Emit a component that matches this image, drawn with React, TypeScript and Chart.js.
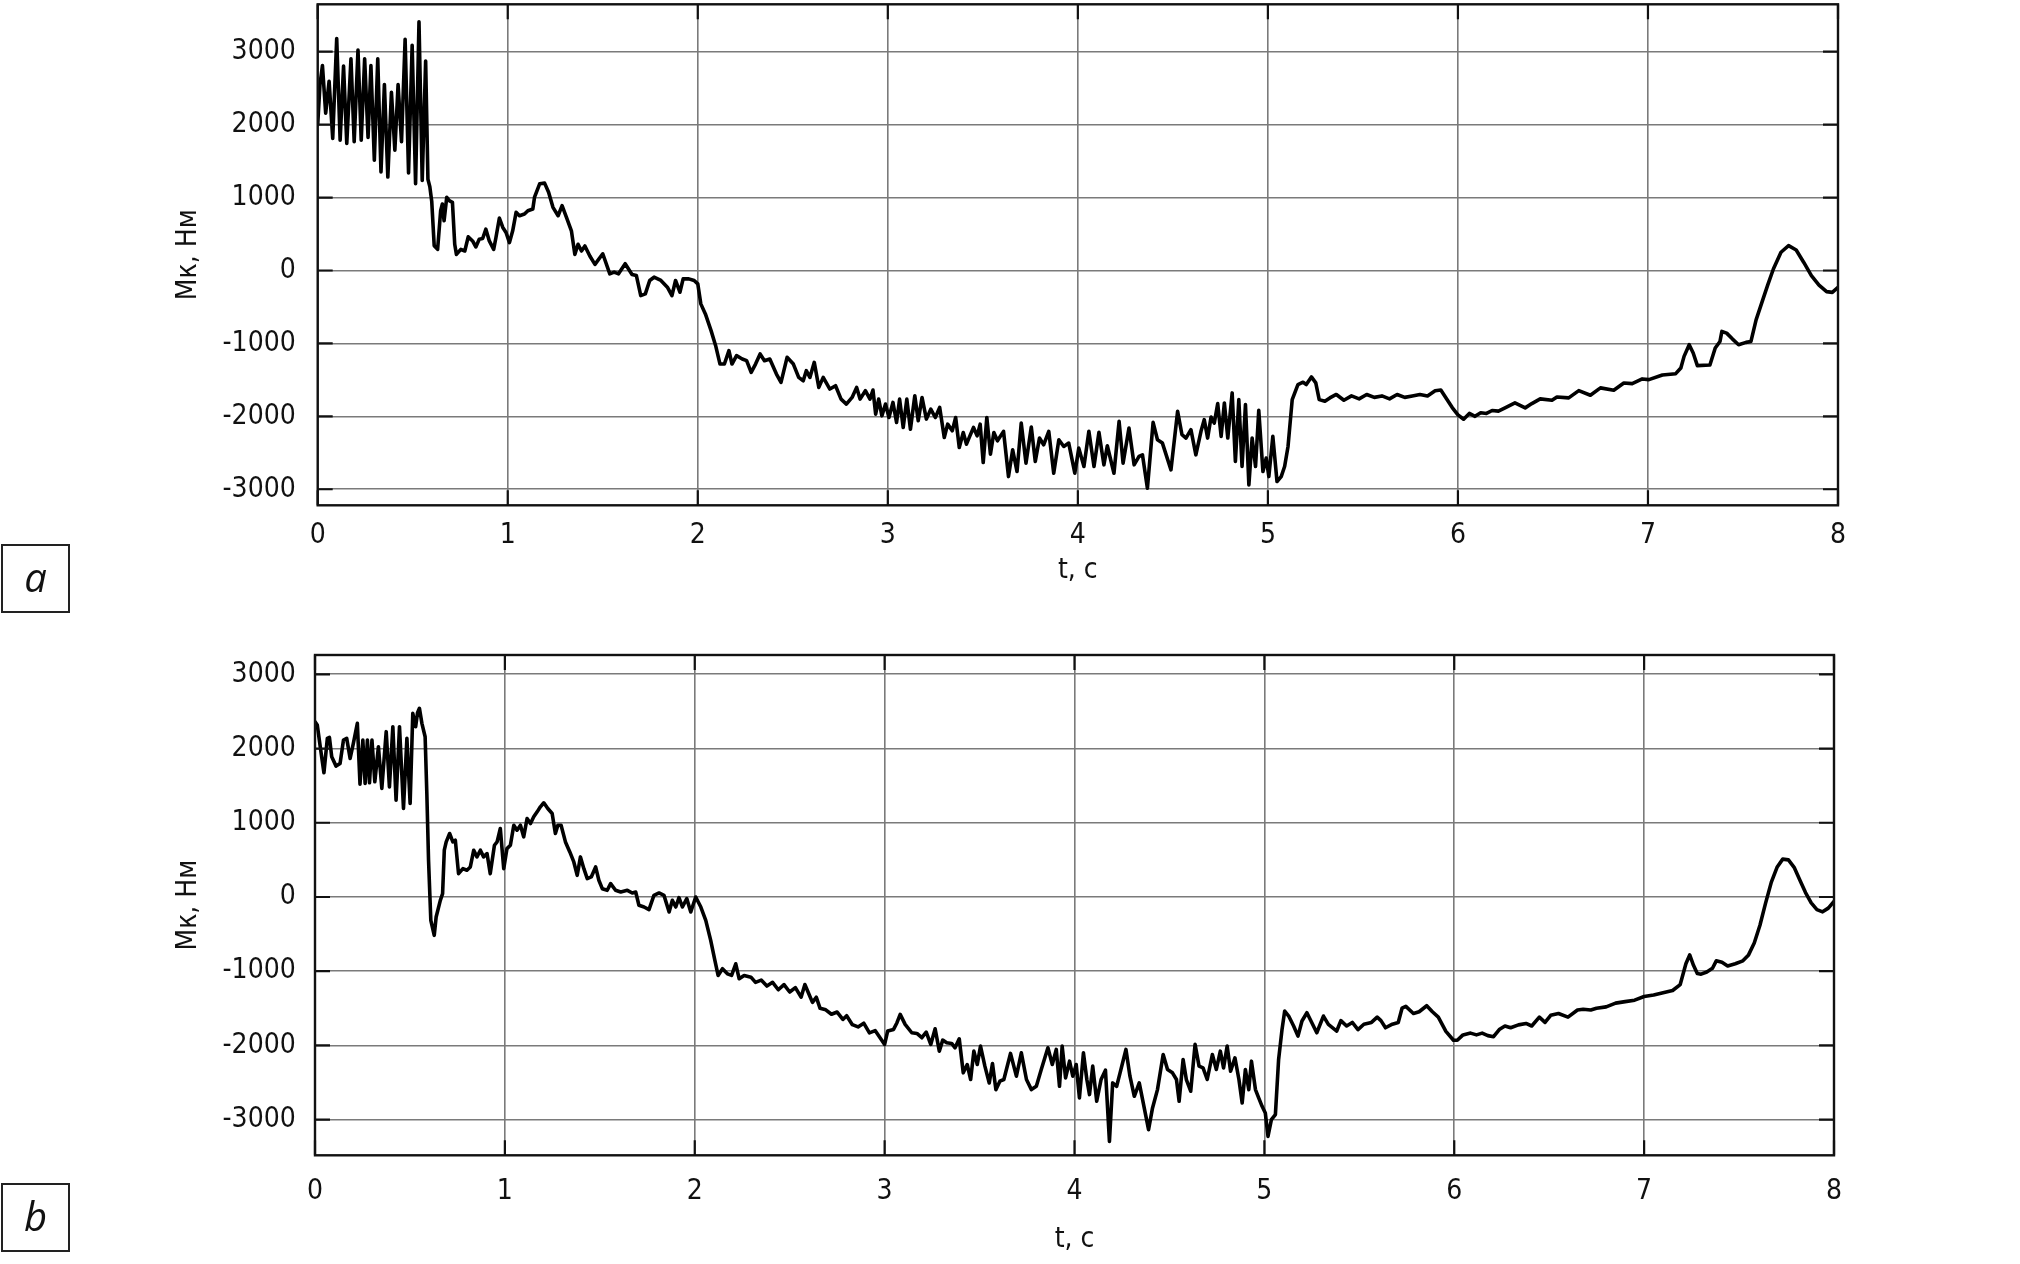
import { useEffect, useRef } from 'react';
import { Chart, registerables } from 'chart.js';

Chart.register(...registerables);

// ---- data ----
const xTicks = [0, 1, 2, 3, 4, 5, 6, 7, 8];
const yTicks = [-3000, -2000, -1000, 0, 1000, 2000, 3000];
const xLabel = 't, c';
const yLabel = 'Мк, Нм';
const panelA = 'a';
const panelB = 'b';

// chart a: [t, Mk]
const pointsA: [number, number][] = [
  [0, 2000], [0.012, 2550], [0.025, 2810], [0.042, 2157], [0.06, 2594], [0.079, 1811], [0.1, 3180], [0.118, 1788],
  [0.136, 2802], [0.153, 1742], [0.175, 2903], [0.192, 1765], [0.212, 3023], [0.229, 1788], [0.247, 2903], [0.265, 1825],
  [0.28, 2811], [0.298, 1511], [0.316, 2903], [0.333, 1350], [0.351, 2548], [0.369, 1281], [0.388, 2442], [0.406, 1650],
  [0.423, 2548], [0.441, 1765], [0.46, 3170], [0.478, 1336], [0.497, 3088], [0.515, 1189], [0.533, 3410], [0.55, 1235],
  [0.568, 2871], [0.58, 1250], [0.59, 1150], [0.6, 950], [0.613, 340], [0.631, 290],
  [0.647, 820], [0.656, 912], [0.665, 682], [0.679, 1005], [0.692, 958], [0.709, 935], [0.721, 360], [0.73, 221],
  [0.753, 290], [0.774, 267], [0.792, 461], [0.815, 405], [0.832, 323], [0.85, 429], [0.868, 438], [0.885, 567],
  [0.903, 405], [0.926, 290], [0.938, 452], [0.956, 719], [0.974, 590], [0.991, 521], [1.009, 382], [1.026, 544],
  [1.044, 797], [1.062, 751], [1.088, 774], [1.106, 820], [1.132, 843], [1.141, 1005], [1.168, 1189], [1.194, 1198],
  [1.215, 1074], [1.238, 866], [1.265, 751], [1.286, 889], [1.309, 728], [1.335, 544], [1.353, 221], [1.37, 359],
  [1.388, 267], [1.406, 336], [1.432, 198], [1.459, 83],
  [1.5, 229], [1.537, -46], [1.56, -23], [1.583, -46], [1.618, 92], [1.654, -55], [1.677, -69], [1.7, -344],
  [1.724, -321], [1.747, -137], [1.77, -92], [1.806, -137], [1.84, -229], [1.864, -344], [1.883, -137], [1.906, -298],
  [1.923, -115], [1.953, -115], [1.981, -137], [2.0, -183], [2.016, -458], [2.04, -596], [2.07, -825], [2.094, -1031],
  [2.117, -1283], [2.14, -1283], [2.164, -1099], [2.18, -1283], [2.204, -1168], [2.234, -1214], [2.257, -1237], [2.281, -1397],
  [2.304, -1283], [2.328, -1145], [2.351, -1237], [2.379, -1214], [2.414, -1420], [2.438, -1535], [2.47, -1191], [2.503, -1283],
  [2.531, -1466], [2.555, -1512], [2.571, -1374], [2.59, -1466], [2.613, -1260], [2.637, -1603], [2.66, -1466], [2.695, -1626],
  [2.725, -1580], [2.754, -1764], [2.782, -1832], [2.812, -1741], [2.836, -1603], [2.854, -1764], [2.882, -1649], [2.906, -1764],
  [2.922, -1640], [2.936, -1970], [2.952, -1764], [2.969, -1993], [2.988, -1832], [3.006, -2016], [3.027, -1809], [3.046, -2084],
  [3.062, -1764], [3.081, -2153], [3.1, -1764], [3.119, -2176], [3.142, -1718], [3.16, -2061], [3.18, -1741], [3.203, -2038],
  [3.226, -1901], [3.25, -2016], [3.273, -1878], [3.297, -2290], [3.315, -2107], [3.339, -2199], [3.357, -2016], [3.376, -2428],
  [3.397, -2222], [3.414, -2382], [3.432, -2268], [3.451, -2153], [3.47, -2268], [3.486, -2107], [3.502, -2634], [3.521, -2016],
  [3.54, -2519], [3.558, -2222], [3.577, -2336],
  [3.609, -2206], [3.635, -2826], [3.657, -2459], [3.68, -2757], [3.702, -2092], [3.727, -2642], [3.755, -2147], [3.776, -2619],
  [3.798, -2298], [3.82, -2390], [3.847, -2206], [3.873, -2780], [3.9, -2321], [3.926, -2413], [3.952, -2367], [3.984, -2780],
  [4.005, -2436], [4.032, -2688], [4.058, -2206], [4.085, -2688], [4.111, -2220], [4.137, -2665], [4.155, -2404], [4.19, -2780],
  [4.217, -2069], [4.238, -2642], [4.269, -2161], [4.296, -2665], [4.322, -2550], [4.34, -2528], [4.366, -2986], [4.396, -2083],
  [4.419, -2321], [4.445, -2367], [4.49, -2734], [4.525, -1931], [4.548, -2252], [4.569, -2298], [4.595, -2183], [4.621, -2528],
  [4.648, -2206], [4.665, -2046], [4.683, -2298], [4.701, -2009], [4.718, -2092], [4.736, -1826], [4.754, -2275], [4.771, -1817],
  [4.789, -2298], [4.812, -1679], [4.829, -2619], [4.847, -1771], [4.864, -2688], [4.882, -1839], [4.9, -2940], [4.917, -2298],
  [4.935, -2688], [4.952, -1917], [4.974, -2757], [4.991, -2573], [5.005, -2826], [5.026, -2275], [5.048, -2894], [5.07, -2826],
  [5.088, -2688], [5.106, -2413], [5.128, -1771], [5.158, -1564], [5.185, -1532], [5.202, -1564], [5.229, -1459], [5.252, -1541],
  [5.27, -1771], [5.3, -1794], [5.326, -1748],
  [5.36, -1700], [5.4, -1780], [5.44, -1720], [5.48, -1760], [5.52, -1700], [5.56, -1740], [5.6, -1720], [5.64, -1760],
  [5.68, -1700], [5.72, -1740], [5.76, -1720], [5.8, -1700], [5.84, -1720], [5.88, -1650], [5.91, -1640], [5.94, -1760],
  [5.97, -1880], [6.0, -1980], [6.03, -2040], [6.06, -1960], [6.09, -2000], [6.12, -1950], [6.15, -1960], [6.18, -1920],
  [6.213, -1929], [6.248, -1884], [6.3, -1815], [6.354, -1884], [6.389, -1825], [6.433, -1761], [6.495, -1779], [6.521, -1734],
  [6.583, -1747], [6.636, -1647], [6.697, -1711], [6.75, -1610], [6.82, -1642], [6.873, -1542], [6.917, -1551], [6.97, -1487],
  [7.005, -1497], [7.076, -1433], [7.146, -1415], [7.173, -1337], [7.19, -1178], [7.217, -1018], [7.238, -1132], [7.26, -1305],
  [7.326, -1296], [7.354, -1064], [7.379, -973], [7.389, -836], [7.414, -859], [7.445, -941], [7.477, -1018], [7.516, -986],
  [7.542, -973], [7.569, -677], [7.604, -403],
  [7.63, -200], [7.66, 20], [7.7, 250], [7.74, 340], [7.78, 280], [7.82, 110], [7.86, -70], [7.9, -200],
  [7.94, -290], [7.97, -300], [8.0, -230],
];

// chart b: [t, Mk]
const pointsB: [number, number][] = [
  [0, 2362], [0.012, 2317], [0.03, 1979], [0.047, 1673], [0.065, 2137], [0.076, 2150], [0.088, 1889], [0.111, 1763],
  [0.132, 1799], [0.15, 2114], [0.167, 2137], [0.185, 1867], [0.202, 2069], [0.223, 2339], [0.237, 1520], [0.252, 2114],
  [0.264, 1529], [0.276, 2114], [0.287, 1538], [0.3, 2114], [0.315, 1552], [0.334, 2024], [0.352, 1462], [0.375, 2227],
  [0.392, 1484], [0.41, 2294], [0.427, 1305], [0.445, 2294], [0.466, 1192], [0.484, 2137], [0.501, 1260], [0.515, 2474],
  [0.53, 2294], [0.54, 2483], [0.55, 2542], [0.563, 2339], [0.58, 2159], [0.589, 1395], [0.598, 495], [0.61, -315],
  [0.628, -517], [0.638, -270], [0.66, -45], [0.672, 45], [0.681, 630], [0.691, 742], [0.709, 855], [0.726, 742],
  [0.739, 765], [0.756, 315], [0.779, 382], [0.8, 360], [0.818, 405], [0.836, 630], [0.853, 540], [0.871, 630],
  [0.888, 540], [0.906, 585], [0.923, 315], [0.945, 697], [0.959, 742], [0.976, 922], [0.994, 382], [1.011, 652],
  [1.029, 697], [1.047, 967], [1.064, 900], [1.082, 967], [1.099, 810], [1.117, 1057], [1.135, 990], [1.152, 1080],
  [1.17, 1147], [1.187, 1215], [1.205, 1269], [1.226, 1192], [1.249, 1125], [1.266, 855], [1.279, 967], [1.296, 967],
  [1.319, 742], [1.342, 607], [1.363, 472], [1.381, 292], [1.398, 540], [1.416, 382], [1.434, 247], [1.455, 270],
  [1.478, 405], [1.495, 225], [1.513, 112], [1.539, 90], [1.557, 180], [1.583, 90], [1.61, 67], [1.645, 90],
  [1.671, 54], [1.689, 67], [1.706, -112], [1.733, -135], [1.759, -171], [1.785, 22], [1.812, 54], [1.838, 22],
  [1.865, -202], [1.882, -45], [1.9, -135], [1.917, -9], [1.935, -135], [1.958, -22], [1.979, -202], [2.005, 0],
  [2.032, -135], [2.058, -315], [2.084, -585], [2.106, -855], [2.123, -1057], [2.146, -967], [2.172, -1035], [2.194, -1057],
  [2.216, -900], [2.234, -1102], [2.26, -1057], [2.296, -1080],
  [2.32, -1150], [2.35, -1120], [2.38, -1200], [2.41, -1150], [2.44, -1250], [2.47, -1180], [2.5, -1280], [2.53, -1220],
  [2.56, -1350], [2.58, -1180], [2.6, -1300], [2.62, -1420], [2.64, -1350], [2.66, -1500], [2.69, -1520], [2.72, -1580],
  [2.75, -1550], [2.78, -1650], [2.8, -1600], [2.83, -1720], [2.86, -1750], [2.89, -1700], [2.92, -1830], [2.95, -1800],
  [3.0, -1986], [3.016, -1806], [3.047, -1784], [3.065, -1694], [3.082, -1581], [3.108, -1716], [3.143, -1829], [3.17, -1838],
  [3.196, -1896], [3.219, -1820], [3.243, -1986], [3.266, -1775], [3.288, -2077], [3.306, -1928], [3.327, -1964], [3.353, -1973],
  [3.371, -2032], [3.393, -1910], [3.414, -2369], [3.435, -2257], [3.453, -2459], [3.47, -2077], [3.488, -2257], [3.505, -2009],
  [3.528, -2279], [3.551, -2505], [3.568, -2243], [3.586, -2595], [3.607, -2482], [3.628, -2459], [3.663, -2108], [3.694, -2414],
  [3.72, -2099], [3.747, -2459], [3.773, -2595], [3.799, -2550], [3.825, -2324], [3.86, -2032], [3.883, -2257], [3.904, -2054],
  [3.921, -2550], [3.935, -2009], [3.953, -2437], [3.974, -2212], [3.991, -2414], [4.009, -2257], [4.026, -2707], [4.047, -2099],
  [4.065, -2459], [4.079, -2662], [4.096, -2279], [4.117, -2752], [4.14, -2459], [4.163, -2333], [4.184, -3293], [4.201, -2505],
  [4.222, -2550], [4.24, -2369], [4.271, -2054], [4.292, -2414], [4.315, -2685], [4.341, -2505], [4.362, -2775], [4.39, -3135],
  [4.411, -2842], [4.437, -2595], [4.467, -2122], [4.49, -2324], [4.516, -2369], [4.537, -2459], [4.551, -2752], [4.572, -2189],
  [4.589, -2459], [4.612, -2617], [4.635, -1986], [4.656, -2279], [4.677, -2302], [4.699, -2459], [4.726, -2122], [4.747, -2324],
  [4.768, -2077], [4.785, -2302], [4.804, -2009], [4.822, -2347], [4.845, -2167], [4.866, -2459], [4.883, -2775], [4.9, -2324],
  [4.918, -2595], [4.932, -2212], [4.953, -2595], [4.97, -2707], [4.988, -2820], [5.005, -2910], [5.019, -3225], [5.037, -3000],
  [5.058, -2932], [5.075, -2189], [5.093, -1784], [5.107, -1536], [5.128, -1604], [5.154, -1739], [5.177, -1874], [5.198, -1671],
  [5.224, -1559], [5.25, -1694], [5.276, -1829], [5.311, -1604], [5.337, -1716], [5.381, -1806],
  [5.403, -1666], [5.433, -1738], [5.463, -1690], [5.493, -1786], [5.524, -1714], [5.564, -1690], [5.594, -1618], [5.614, -1666],
  [5.638, -1762], [5.674, -1714], [5.705, -1690], [5.725, -1498], [5.745, -1474], [5.785, -1570], [5.815, -1546], [5.855, -1465],
  [5.885, -1546], [5.916, -1618], [5.956, -1810], [5.996, -1930], [6.016, -1930], [6.046, -1858], [6.086, -1834], [6.117, -1858],
  [6.147, -1834], [6.177, -1868], [6.207, -1882], [6.237, -1786], [6.267, -1738], [6.297, -1762], [6.338, -1723], [6.378, -1704],
  [6.408, -1738], [6.448, -1618], [6.478, -1690], [6.508, -1594], [6.549, -1570], [6.599, -1618], [6.649, -1522], [6.679, -1512],
  [6.719, -1522], [6.749, -1498],
  [6.8, -1480], [6.85, -1430], [6.9, -1410], [6.95, -1390], [7.0, -1340], [7.05, -1320], [7.1, -1290], [7.15, -1260],
  [7.19, -1180], [7.22, -900], [7.24, -780], [7.26, -920], [7.28, -1030], [7.3, -1040], [7.33, -1010], [7.36, -960],
  [7.38, -860], [7.41, -880], [7.44, -930], [7.48, -900], [7.52, -860], [7.55, -780], [7.58, -620], [7.61, -380],
  [7.64, -80], [7.67, 200], [7.7, 400], [7.73, 510], [7.76, 500], [7.79, 400], [7.82, 230], [7.85, 60],
  [7.88, -80], [7.91, -170], [7.94, -200], [7.97, -150], [8.0, -60],
];

// ---- layout / style ----
const FONT = "'Liberation Sans Narrow', 'DejaVu Sans Condensed', 'Roboto', sans-serif";

type Layout = {
  height: number; yWidth: number; padTop: number; padRight: number; xHeight: number;
  yMin: number; yMax: number; yTickPad: number; xTickPad: number; yTitlePad: number; xTitlePad: number;
};

const layoutA: Layout = {
  height: 620, yWidth: 317.7, padTop: 4.3, padRight: 182, xHeight: 114.7,
  yMin: -3220, yMax: 3650, yTickPad: 22, xTickPad: 14, yTitlePad: 172, xTitlePad: 32,
};
const layoutB: Layout = {
  height: 644, yWidth: 315, padTop: 35, padRight: 186, xHeight: 108.7,
  yMin: -3480, yMax: 3260, yTickPad: 19.3, xTickPad: 20, yTitlePad: 172, xTitlePad: 7.7,
};

const framePlugin = {
  id: 'frameTicks',
  afterDraw(chart: any) {
    const { ctx, chartArea, scales } = chart;
    const { left, right, top, bottom } = chartArea;
    const tl = 15;
    ctx.save();
    ctx.strokeStyle = '#111';
    ctx.lineWidth = 2.2;
    ctx.beginPath();
    for (const v of yTicks) {
      const y = scales.y.getPixelForValue(v);
      ctx.moveTo(left, y); ctx.lineTo(left + tl, y);
      ctx.moveTo(right - tl, y); ctx.lineTo(right, y);
    }
    for (const v of xTicks) {
      const x = scales.x.getPixelForValue(v);
      ctx.moveTo(x, top); ctx.lineTo(x, top + tl);
      ctx.moveTo(x, bottom - tl); ctx.lineTo(x, bottom);
    }
    ctx.stroke();
    ctx.lineWidth = 2.4;
    ctx.strokeRect(left, top, right - left, bottom - top);
    ctx.restore();
  },
};

function makeConfig(points: [number, number][], L: Layout): any {
  const tickFont = { family: FONT, size: 28 };
  return {
    type: 'line',
    data: {
      datasets: [{
        data: points.map(([x, y]) => ({ x, y })),
        borderColor: '#000',
        borderWidth: 3.6,
        pointRadius: 0,
        tension: 0,
        fill: false,
        borderJoinStyle: 'round',
        borderCapStyle: 'round',
      }],
    },
    options: {
      animation: false,
      responsive: false,
      devicePixelRatio: 1,
      layout: { padding: { left: 0, top: L.padTop, right: L.padRight, bottom: 0 } },
      plugins: { legend: { display: false }, tooltip: { enabled: false } },
      scales: {
        x: {
          type: 'linear',
          min: 0,
          max: 8,
          afterBuildTicks: (s: any) => { s.ticks = xTicks.map((v) => ({ value: v })); },
          afterFit: (s: any) => { s.height = L.xHeight; s.paddingLeft = 0; s.paddingRight = 0; },
          grid: { color: '#7a7a7a', lineWidth: 1.6, drawTicks: false },
          border: { display: false },
          ticks: {
            padding: L.xTickPad, color: '#111', font: tickFont, maxRotation: 0, autoSkip: false,
            callback: (v: any) => String(v),
          },
          title: {
            display: true, text: xLabel, color: '#111', font: tickFont,
            padding: { top: 0, bottom: L.xTitlePad },
          },
        },
        y: {
          type: 'linear',
          min: L.yMin,
          max: L.yMax,
          afterBuildTicks: (s: any) => { s.ticks = yTicks.map((v) => ({ value: v })); },
          afterFit: (s: any) => { s.width = L.yWidth; s.paddingTop = 0; s.paddingBottom = 0; },
          grid: { color: '#7a7a7a', lineWidth: 1.6, drawTicks: false },
          border: { display: false },
          ticks: {
            padding: L.yTickPad, color: '#111', font: tickFont, autoSkip: false,
            callback: (v: any) => String(v),
          },
          title: {
            display: true, text: yLabel, color: '#111', font: tickFont,
            padding: { top: L.yTitlePad, bottom: 0 },
          },
        },
      },
    },
    plugins: [framePlugin],
  };
}

function boxStyle(top: number): any {
  return {
    position: 'absolute', left: 1, top, width: 69, height: 69, boxSizing: 'border-box',
    border: '2px solid #222', display: 'flex', alignItems: 'center', justifyContent: 'center',
    fontFamily: "'Open Sans', sans-serif", fontStyle: 'italic', fontSize: 40, lineHeight: 1, color: '#111',
    paddingBottom: 4,
  };
}

export default function App() {
  const refA = useRef<HTMLCanvasElement>(null);
  const refB = useRef<HTMLCanvasElement>(null);
  useEffect(() => {
    const a = new Chart(refA.current as HTMLCanvasElement, makeConfig(pointsA, layoutA));
    const b = new Chart(refB.current as HTMLCanvasElement, makeConfig(pointsB, layoutB));
    return () => { a.destroy(); b.destroy(); };
  }, []);
  return (
    <div style={{ position: 'absolute', left: 0, top: 0, width: 2020, height: 1264, background: '#fff', overflow: 'hidden' }}>
      <canvas ref={refA} width={2020} height={layoutA.height}
        style={{ position: 'absolute', left: 0, top: 0, width: 2020, height: layoutA.height }} />
      <canvas ref={refB} width={2020} height={layoutB.height}
        style={{ position: 'absolute', left: 0, top: 620, width: 2020, height: layoutB.height }} />
      <div style={boxStyle(544)}>{panelA}</div>
      <div style={boxStyle(1183)}>{panelB}</div>
    </div>
  );
}
